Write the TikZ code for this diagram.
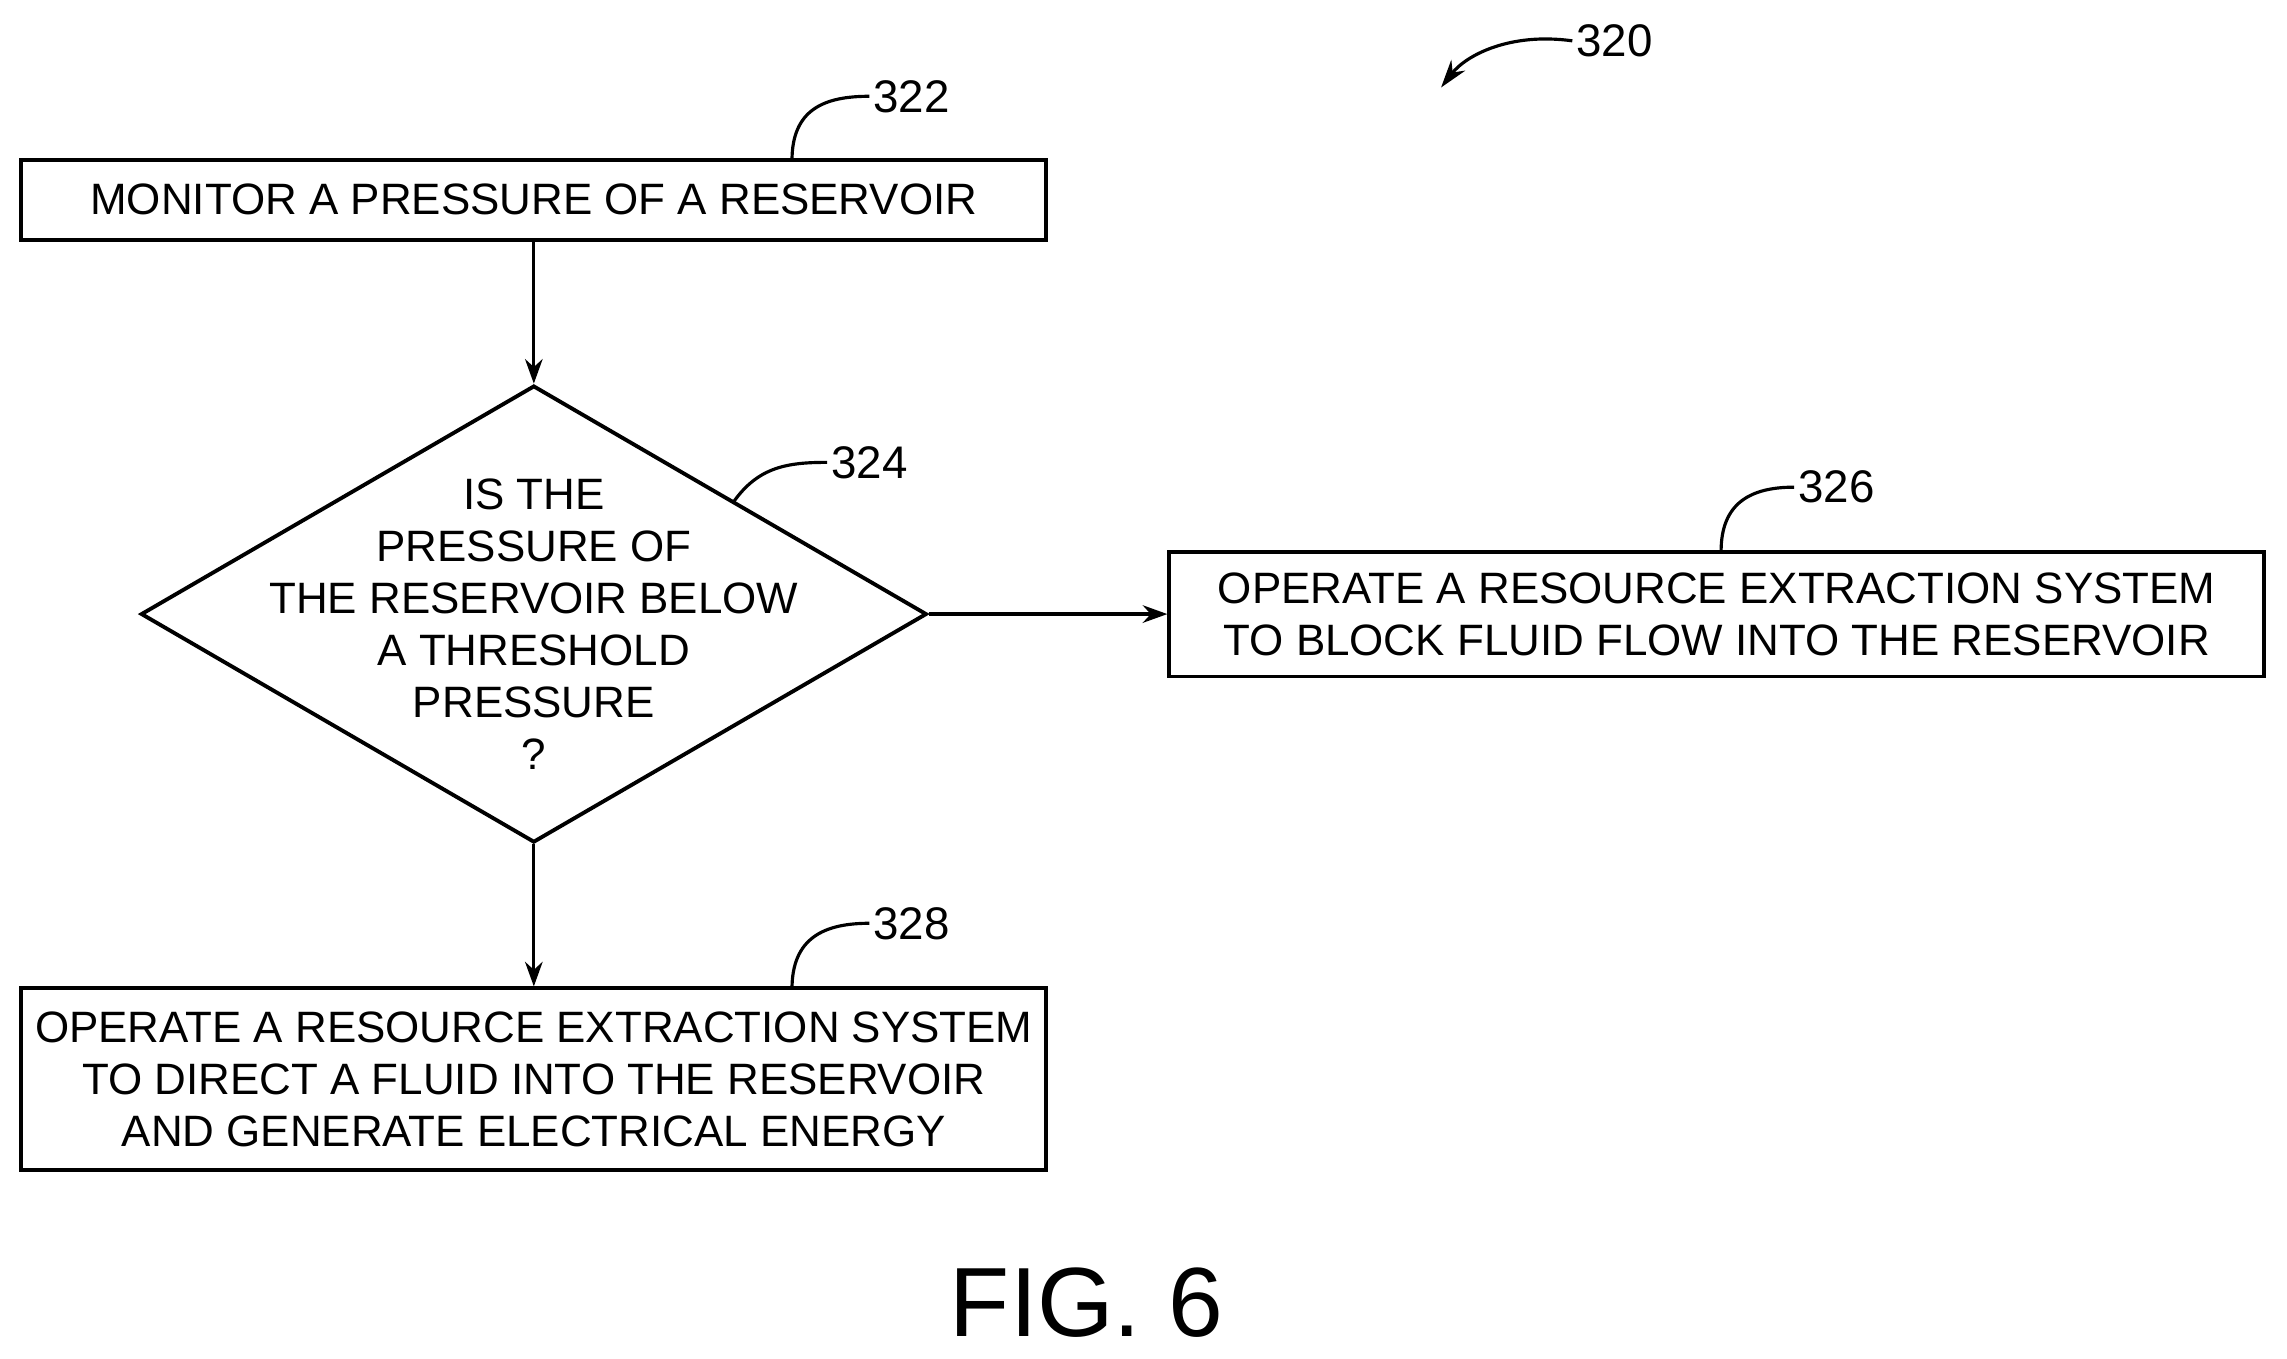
\documentclass[tikz,border=0pt]{standalone}
\usepackage{fontspec}
\setmainfont{Liberation Sans}
\usetikzlibrary{shapes.geometric,arrows.meta}
\tikzset{
  procbox/.style={draw, line width=1.1pt, minimum width=10.25cm, align=center, inner sep=0pt,
    font=\fontsize{12.5}{14.8}\selectfont},
  flow/.style={-{Stealth[length=7pt,width=5pt]}, line width=0.9pt},
  lead/.style={line width=0.9pt},
  refnum/.style={font=\fontsize{13}{15}\selectfont, anchor=west, inner sep=1pt}
}
\begin{document}
\begin{tikzpicture}[x=0.014586cm, y=-0.014586cm]
            \useasboundingbox (0,0) rectangle (1568,931.7);

            % Bloques
            \node[procbox, minimum height=0.80cm] (monitor) at (366,137) {MONITOR A PRESSURE OF A RESERVOIR};
            \node[draw, diamond, line width=1.1pt, minimum width=7.86cm, minimum height=4.57cm, inner sep=0pt] (check) at (366,421) {};
            \node[align=center, font=\fontsize{12.5}{14.8}\selectfont] (checktxt) at (366,428)
              {IS THE\\PRESSURE OF\\THE RESERVOIR BELOW\\A THRESHOLD\\PRESSURE\\?};
            \node[procbox, minimum width=10.95cm, minimum height=1.25cm] (block) at (1177,421)
              {OPERATE A RESOURCE EXTRACTION SYSTEM\\TO BLOCK FLUID FLOW INTO THE RESERVOIR};
            \node[procbox, minimum height=1.82cm] (direct) at (366,740)
              {OPERATE A RESOURCE EXTRACTION SYSTEM\\TO DIRECT A FLUID INTO THE RESERVOIR\\AND GENERATE ELECTRICAL ENERGY};

            % Flechas
            \draw[flow] (monitor) -- (check.north);
            \draw[flow] (check.east) -- (block.west);
            \draw[flow] (check.south) -- (direct.north);

            % Referencias
            \node[refnum] (r320) at (1078,28) {320};
            \node[refnum] (r322) at (596,66) {322};
            \node[refnum] (r324) at (567,317) {324};
            \node[refnum] (r326) at (1230,334) {326};
            \node[refnum] (r328) at (596,633) {328};
            \draw[lead, -{Stealth[length=8pt,width=5pt]}] (r320.west) .. controls (1035,22) and (1005,38) .. (988,60);
            \draw[lead] (543,110) .. controls (543,75) and (565,66) .. (r322.west);
            \draw[lead] (503,344) .. controls (520,320) and (540,317) .. (r324.west);
            \draw[lead] (1180,378) .. controls (1180,345) and (1200,334) .. (r326.west);
            \draw[lead] (543,678) .. controls (543,643) and (565,633) .. (r328.west);

            % Figura
            \node[font=\fontsize{28}{30}\selectfont] (fig) at (745,893) {FIG. 6};
\end{tikzpicture}
\end{document}
